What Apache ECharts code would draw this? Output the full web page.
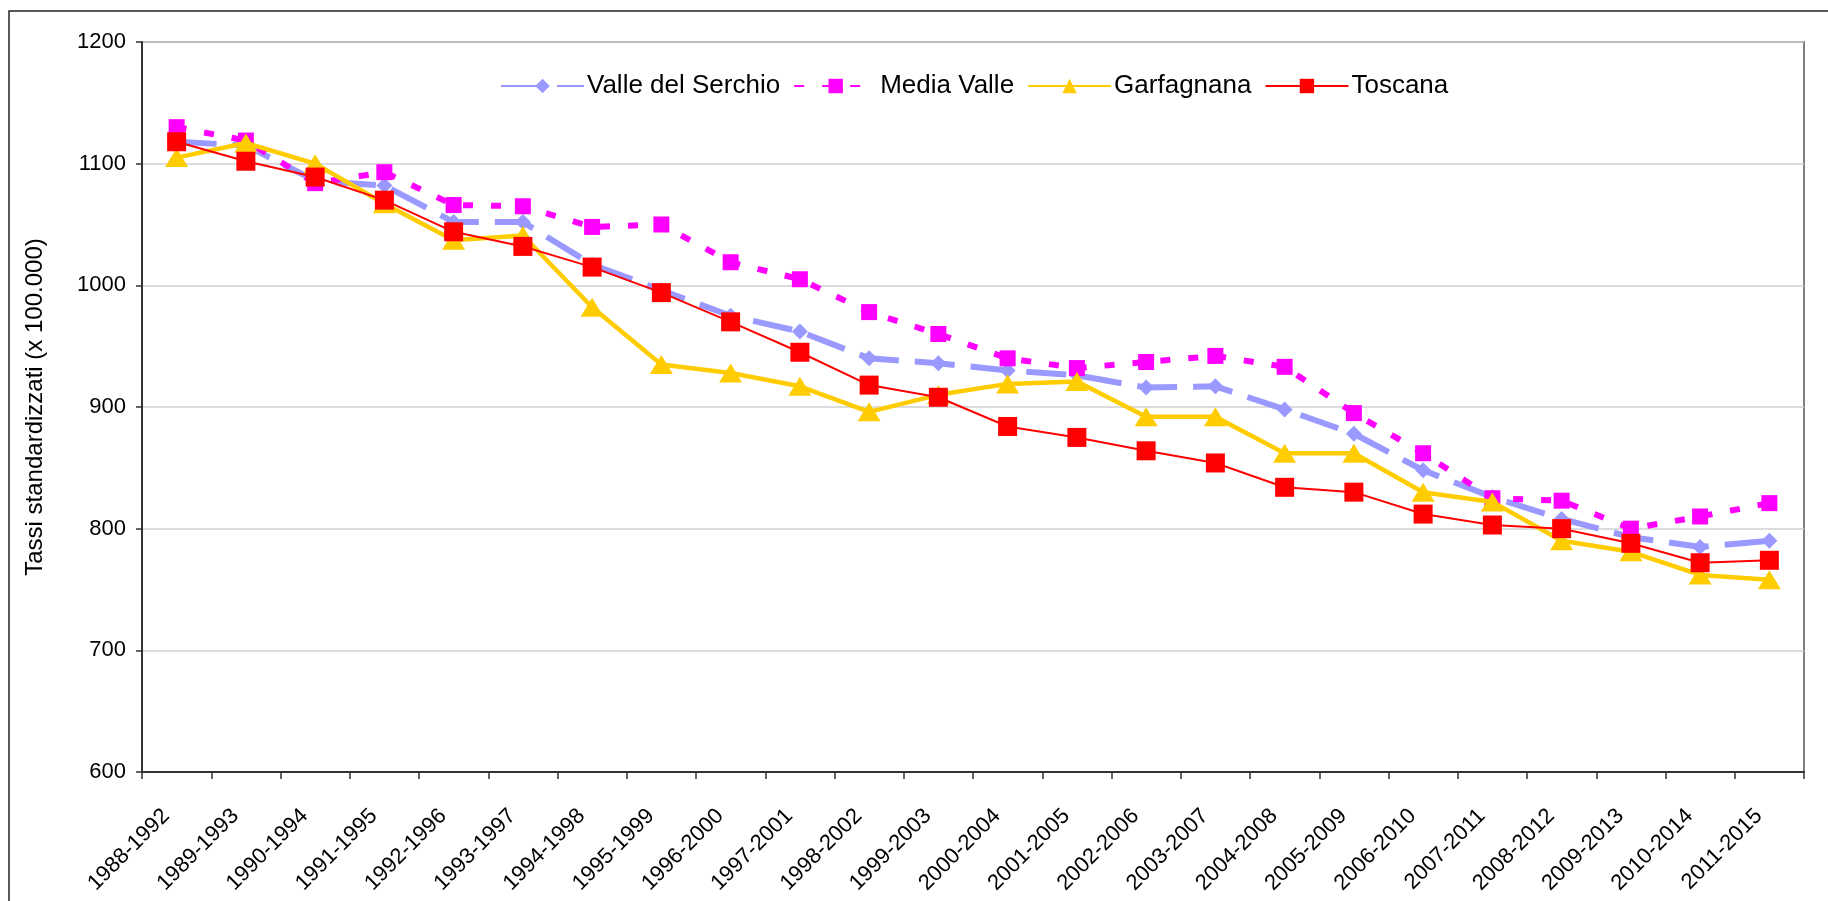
<!DOCTYPE html>
<html>
<head>
<meta charset="utf-8">
<script src="https://cdn.jsdelivr.net/npm/echarts@6/dist/echarts.min.js"></script>
<style>
  html, body { margin: 0; padding: 0; background: #fff; }
  #chart { width: 1828px; height: 901px; }
</style>
</head>
<body>
<div id="chart"></div>
<script>
/* periodi quinquennali */
var periodi = ['1988-1992', '1989-1993', '1990-1994', '1991-1995', '1992-1996', '1993-1997',
    '1994-1998', '1995-1999', '1996-2000', '1997-2001', '1998-2002', '1999-2003',
    '2000-2004', '2001-2005', '2002-2006', '2003-2007', '2004-2008', '2005-2009',
    '2006-2010', '2007-2011', '2008-2012', '2009-2013', '2010-2014', '2011-2015'];

/* tassi standardizzati x 100.000 */
var valleSerchio = [1118, 1115, 1086, 1082, 1052, 1052, 1017, 996, 975, 962, 940, 936,
    930, 926, 916, 917, 898, 878, 848, 826, 808, 793, 785, 790];
var mediaValle = [1130, 1119, 1084, 1093, 1066, 1065, 1048, 1050, 1019, 1005, 978, 960,
    940, 932, 937, 942, 933, 895, 862, 825, 823, 800, 810, 821];
var garfagnana = [1105, 1117, 1100, 1067, 1037, 1041, 982, 935, 928, 917, 896, 910,
    919, 921, 892, 892, 862, 862, 830, 822, 790, 781, 762, 758];
var toscana = [1118, 1102, 1089, 1070, 1044, 1032, 1015, 994, 970, 945, 918, 908,
    884, 875, 864, 854, 834, 830, 812, 803, 800, 788, 772, 774];

/* tick asse y */
var yMin = 600, yMax = 1200, yStep = 100;

var font = '"Liberation Sans", Arial, sans-serif';
var chart = echarts.init(document.getElementById('chart'));

chart.setOption({
    animation: false,
    backgroundColor: '#fff',
    // cornice esterna
    graphic: [{
        type: 'rect',
        z: -1,
        shape: {x: 9, y: 11, width: 1900, height: 1000},
        style: {fill: 'none', stroke: '#222', lineWidth: 1.5}
    }],
    legend: {
        top: 68,
        left: 495,
        itemWidth: 83,
        itemHeight: 18,
        itemGap: 13,
        textStyle: {fontFamily: font, fontSize: 26, color: '#000', padding: [0, 0, 0, -2]},
        data: ['Valle del Serchio', 'Media Valle', 'Garfagnana', 'Toscana']
    },
    grid: {
        left: 142,
        top: 42,
        right: 24,
        bottom: 129,
        show: true,
        borderColor: '#808080',
        borderWidth: 2
    },
    xAxis: {
        type: 'category',
        data: periodi,
        boundaryGap: true,
        axisLine: {lineStyle: {color: '#333', width: 2}},
        axisTick: {show: true, length: 7, lineStyle: {color: '#333', width: 1.5}},
        axisLabel: {
            rotate: 45,
            interval: 0,
            margin: 30,
            padding: [0, 15, 0, 0],
            fontFamily: font,
            fontSize: 22,
            color: '#000'
        },
        splitLine: {show: false}
    },
    yAxis: {
        type: 'value',
        min: yMin,
        max: yMax,
        interval: yStep,
        name: 'Tassi standardizzati (x 100.000)',
        nameLocation: 'middle',
        nameGap: 95,
        nameTextStyle: {fontFamily: font, fontSize: 24, color: '#000'},
        axisLine: {show: true, lineStyle: {color: '#333', width: 2}},
        axisTick: {show: true, length: 6, lineStyle: {color: '#333', width: 1.5}},
        axisLabel: {
            margin: 16,
            fontFamily: font,
            fontSize: 22,
            color: '#000',
            formatter: function (v) { return String(v); }
        },
        splitLine: {show: true, lineStyle: {color: '#d0d0d0', width: 1.5}}
    },
    series: [
        {
            name: 'Valle del Serchio',
            type: 'line',
            data: valleSerchio,
            color: '#9999FF',
            symbol: 'diamond',
            symbolSize: 16,
            lineStyle: {width: 6, type: [40, 16], color: '#9999FF'},
            itemStyle: {color: '#9999FF'},
            z: 2
        },
        {
            name: 'Media Valle',
            type: 'line',
            data: mediaValle,
            color: '#FF00FF',
            symbol: 'rect',
            symbolSize: 16,
            lineStyle: {width: 6, type: [10, 18], color: '#FF00FF'},
            itemStyle: {color: '#FF00FF'},
            z: 3
        },
        {
            name: 'Garfagnana',
            type: 'line',
            data: garfagnana,
            color: '#FFCC00',
            symbol: 'triangle',
            symbolSize: [23, 19],
            lineStyle: {width: 4.5, color: '#FFCC00'},
            itemStyle: {color: '#FFCC00'},
            z: 4
        },
        {
            name: 'Toscana',
            type: 'line',
            data: toscana,
            color: '#FF0000',
            symbol: 'rect',
            symbolSize: 19,
            lineStyle: {width: 2, color: '#FF0000'},
            itemStyle: {color: '#FF0000'},
            z: 5
        }
    ]
});
</script>
</body>
</html>
